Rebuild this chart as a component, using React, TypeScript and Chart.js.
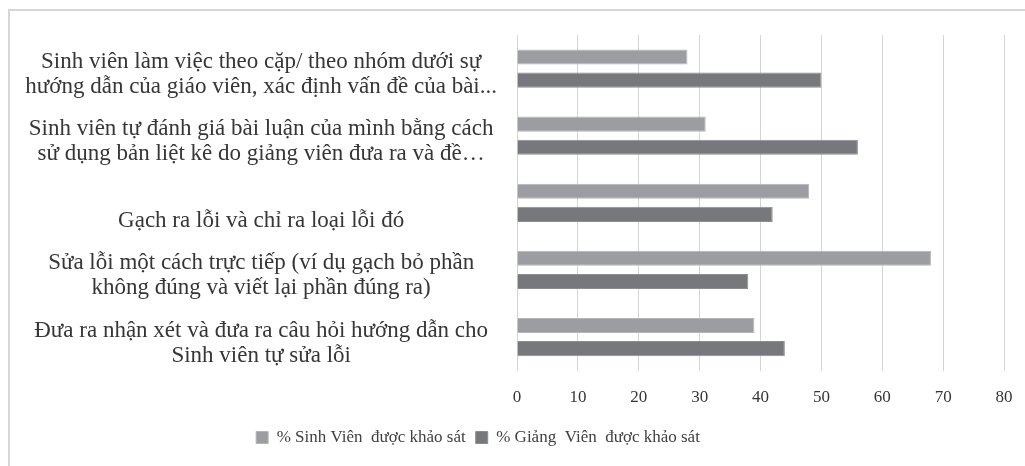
import React, { useEffect, useRef } from "react";
import { Chart, registerables } from "chart.js";

Chart.register(...registerables);

const categories: (string | string[])[] = [
  ["Sinh viên làm việc theo cặp/ theo nhóm dưới sự", "hướng dẫn của giáo viên, xác định vấn đề của bài..."],
  ["Sinh viên tự đánh giá bài luận của mình bằng cách", "sử dụng bản liệt kê do giảng viên đưa ra và đề…"],
  ["", "Gạch ra lỗi và chỉ ra loại lỗi đó"],
  ["Sửa lỗi một cách trực tiếp (ví dụ gạch bỏ phần", "không đúng và viết lại phần đúng ra)"],
  ["Đưa ra nhận xét và đưa ra câu hỏi hướng dẫn cho", "Sinh viên tự sửa lỗi"],
];

const studentValues = [28, 31, 48, 68, 39];
const lecturerValues = [50, 56, 42, 38, 44];

const seriesNames = ["% Sinh Viên  được khảo sát", "% Giảng  Viên  được khảo sát"];
const xTicks = [0, 10, 20, 30, 40, 50, 60, 70, 80];

const LIGHT = "#9c9da1";
const DARK = "#77787c";
const TEXT = "#363636";
const SERIF = "'Liberation Serif', 'Times New Roman', serif";

const legendShift = {
  id: "legendShift",
  afterLayout(chart: any) {
    const l = chart.legend;
    if (l) {
      l.right -= 48;
      l.width -= 48;
    }
  },
};

export default function App() {
  const ref = useRef<HTMLCanvasElement | null>(null);

  useEffect(() => {
    if (!ref.current) return;
    const chart = new Chart(ref.current, {
      type: "bar",
      data: {
        labels: categories,
        datasets: [
          {
            label: seriesNames[0],
            data: studentValues,
            backgroundColor: LIGHT,
            borderColor: "#b4b5b8",
            borderWidth: 1,
            categoryPercentage: 0.69,
            barPercentage: 0.65,
          },
          {
            label: seriesNames[1],
            data: lecturerValues,
            backgroundColor: DARK,
            borderColor: "#8c8d90",
            borderWidth: 1,
            categoryPercentage: 0.69,
            barPercentage: 0.65,
          },
        ],
      },
      options: {
        indexAxis: "y",
        animation: false,
        responsive: false,
        maintainAspectRatio: false,
        layout: { padding: { top: 35, right: 21, left: 0, bottom: 10 } },
        scales: {
          x: {
            min: 0,
            max: 80,
            afterBuildTicks: (scale: any) => {
              scale.ticks = xTicks.map((v) => ({ value: v }));
            },
            afterFit: (scale: any) => {
              scale.paddingLeft = 0;
              scale.paddingRight = 0;
              scale.height = scale.height - 6;
            },
            grid: { color: "#d4d4d4", lineWidth: 1, drawTicks: false },
            border: { display: false },
            ticks: {
              color: TEXT,
              padding: 17,
              font: { family: SERIF, size: 17 },
            },
          },
          y: {
            afterFit: (scale: any) => {
              scale.width = 517;
              scale.paddingTop = 0;
              scale.paddingBottom = 0;
            },
            grid: { display: false, drawTicks: false },
            border: { display: false },
            ticks: {
              crossAlign: "center",
              padding: 20,
              labelOffset: 6,
              color: TEXT,
              font: { family: SERIF, size: 23, lineHeight: "25px" },
              autoSkip: false,
            },
          },
        },
        plugins: {
          legend: {
            position: "bottom",
            labels: {
              boxWidth: 12,
              boxHeight: 12,
              color: "#404040",
              padding: 10,
              font: { family: SERIF, size: 17 },
            },
          },
          tooltip: { enabled: false },
        },
      },
      plugins: [legendShift],
    });
    return () => chart.destroy();
  }, []);

  return (
    <div style={{ position: "fixed", left: 0, top: 0, width: 1025, height: 466, background: "#fff" }}>
      <div
        style={{
          position: "absolute",
          left: 8,
          top: 9,
          width: 1030,
          height: 470,
          borderLeft: "2px solid #d6d6d6",
          borderTop: "2px solid #d6d6d6",
        }}
      />
      <canvas
        ref={ref}
        width={1025}
        height={466}
        style={{ position: "absolute", left: 0, top: 0, width: 1025, height: 466 }}
      />
    </div>
  );
}
